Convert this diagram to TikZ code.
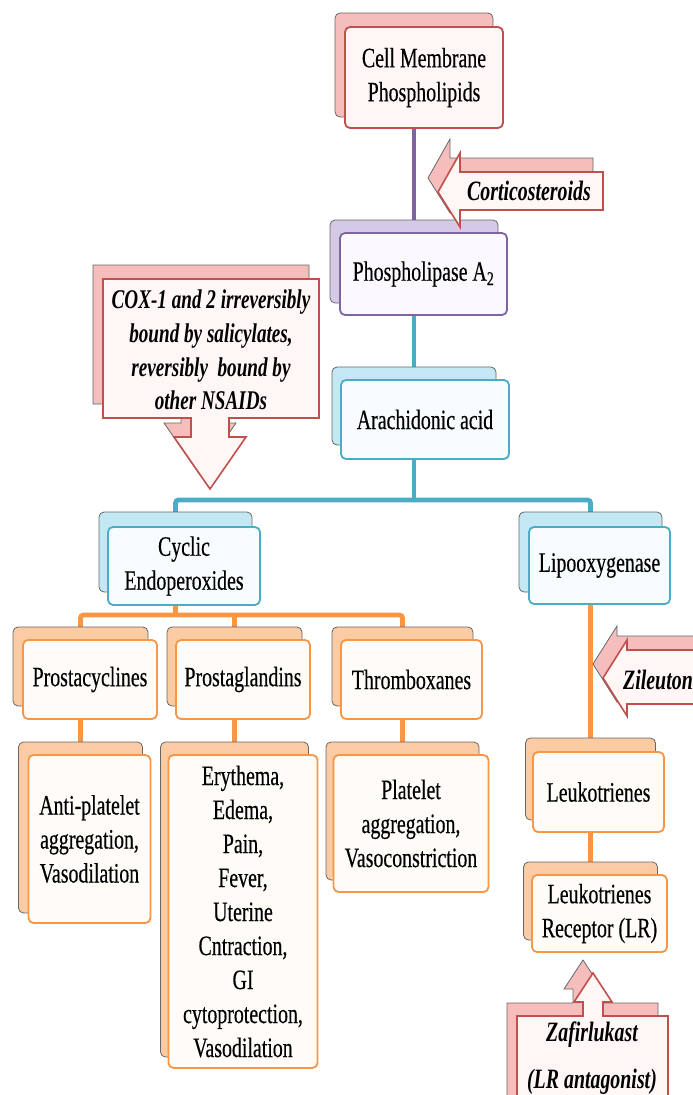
\documentclass[tikz,border=0pt]{standalone}
\usepackage{fontspec}
\setmainfont{Liberation Serif}[FakeStretch=0.71, UprightFeatures={FakeBold=0.35}]
\usetikzlibrary{calc}
\definecolor{cred}{HTML}{C0504D}
\definecolor{cpur}{HTML}{8064A2}
\definecolor{ccya}{HTML}{4BACC6}
\definecolor{cora}{HTML}{F79646}
\definecolor{bred}{HTML}{F5BEBD}
\definecolor{bpur}{HTML}{D5CAE6}
\definecolor{bcya}{HTML}{C3E8F4}
\definecolor{bora}{HTML}{FBCBA4}
\definecolor{fred}{HTML}{FFF6F6}
\definecolor{fpur}{HTML}{FBF9FD}
\definecolor{fcya}{HTML}{F7FCFE}
\definecolor{fora}{HTML}{FFFBF7}
\newcommand\nf{\fontsize{28}{34}\selectfont}
\newcommand\cf{\fontsize{27}{33.7}\selectfont}
\newcommand\zf{\fontsize{28}{47}\selectfont}
\pgfdeclarelayer{background}
\pgfsetlayers{background,main}
\tikzset{
  backbox/.style={draw=black!60, line width=0.8pt, rounded corners=5pt, fill=#1, inner sep=0pt, outer sep=0pt},
  frontbox/.style={draw=#1, line width=1.8pt, rounded corners=5pt, inner sep=0pt, align=center, font=\nf},
  conn/.style={draw=#1, line width=4.8pt, rounded corners=3pt},
  arrback/.style={draw=black!60, line width=0.8pt, fill=bred, line join=miter},
  arrfront/.style={draw=cred, line width=1.6pt, fill=fred, line join=miter},
  lbl/.style={font=\nf\bfseries\itshape, inner sep=0pt, align=center}
}
\begin{document}
\begin{tikzpicture}[x=1pt,y=-1pt]
\useasboundingbox (0,0) rectangle (693,1095);
\clip (0,0) rectangle (693,1095);

% ---- boxes ----
\node[backbox=bred, minimum width=158pt, minimum height=104pt] (cellB) at (414,65) {};
\node[frontbox=cred, fill=fred, minimum width=158pt, minimum height=101pt] (cell) at (424,77.5) {Cell Membrane\\Phospholipids};

\node[backbox=bpur, minimum width=168pt, minimum height=83pt] (phB) at (414,261.5) {};
\node[frontbox=cpur, fill=fpur, minimum width=167pt, minimum height=82pt] (ph) at (423.5,274) {Phospholipase A\textsubscript{2}};

\node[backbox=bcya, minimum width=164pt, minimum height=78pt] (araB) at (414,406) {};
\node[frontbox=ccya, fill=fcya, minimum width=168pt, minimum height=79pt] (ara) at (425,419.5) {Arachidonic acid};

\node[backbox=bcya, minimum width=153pt, minimum height=80pt] (cycB) at (175.5,552) {};
\node[frontbox=ccya, fill=fcya, minimum width=152pt, minimum height=78pt] (cyc) at (184,566) {Cyclic\\Endoperoxides};

\node[backbox=bcya, minimum width=143pt, minimum height=80pt] (lipB) at (590.5,552) {};
\node[frontbox=ccya, fill=fcya, minimum width=141pt, minimum height=77pt] (lip) at (599.5,565.5) {Lipooxygenase};

\node[backbox=bora, minimum width=135pt, minimum height=79pt] (pcyB) at (80.5,666.5) {};
\node[frontbox=cora, fill=fora, minimum width=134pt, minimum height=79pt] (pcy) at (90,679.5) {Prostacyclines};

\node[backbox=bora, minimum width=135pt, minimum height=79pt] (pglB) at (234.5,666.5) {};
\node[frontbox=cora, fill=fora, minimum width=134pt, minimum height=79pt] (pgl) at (243,679.5) {Prostaglandins};

\node[backbox=bora, minimum width=141pt, minimum height=79pt] (txB) at (402.5,666.5) {};
\node[frontbox=cora, fill=fora, minimum width=141pt, minimum height=79pt] (tx) at (411.5,679.5) {Thromboxanes};

\node[backbox=bora, minimum width=124pt, minimum height=171pt] (apB) at (80.5,827.5) {};
\node[frontbox=cora, fill=fora, minimum width=122pt, minimum height=168pt] (ap) at (89.5,839) {Anti-platelet\\aggregation,\\Vasodilation};

\node[backbox=bora, minimum width=148pt, minimum height=315pt] (efB) at (234.5,899.5) {};
\node[frontbox=cora, fill=fora, minimum width=149pt, minimum height=313pt] (ef) at (243,911.5) {Erythema,\\Edema,\\Pain,\\Fever,\\Uterine\\Cntraction,\\GI\\cytoprotection,\\Vasodilation};

\node[backbox=bora, minimum width=153pt, minimum height=138pt] (plB) at (402.5,811) {};
\node[frontbox=cora, fill=fora, minimum width=155pt, minimum height=137pt] (pl) at (411,823.5) {Platelet\\aggregation,\\Vasoconstriction};

\node[backbox=bora, minimum width=130pt, minimum height=82pt] (ltB) at (590.5,779) {};
\node[frontbox=cora, fill=fora, minimum width=131pt, minimum height=80pt] (lt) at (598.5,792) {Leukotrienes};

\node[backbox=bora, minimum width=134pt, minimum height=78pt] (lrB) at (590.5,901) {};
\node[frontbox=cora, fill=fora, minimum width=135pt, minimum height=77pt] (lr) at (599.5,913.5) {Leukotrienes\\Receptor (LR)};

% ---- connectors ----
\begin{pgfonlayer}{background}
\coordinate (bus1) at (414,500);
\coordinate (bus2) at (175.5,615);
\draw[conn=cpur, line width=4pt] (cellB.center) -- (phB.center);
\draw[conn=ccya] (phB.center) -- (araB.center);
\draw[conn=ccya] (araB.center) -- (bus1);
\draw[conn=ccya] (cycB.center) |- (bus1) -| (lipB.center);
\draw[conn=cora] (cycB.center) -- (bus2);
\draw[conn=cora] (pcyB.center) |- (bus2) -| (txB.center);
\draw[conn=cora] (pglB.center) -- (pglB.center |- bus2);
\draw[conn=cora] (pcyB.center) -- (apB.center);
\draw[conn=cora] (pglB.center) -- (efB.center);
\draw[conn=cora] (txB.center) -- (plB.center);
\draw[conn=cora] (lipB.center) -- (ltB.center);
\draw[conn=cora] (ltB.center) -- (lrB.center);
\end{pgfonlayer}

% ---- block arrows ----
% Corticosteroids (left)
\draw[arrback, shift={(-10,-14)}] (438,192) -- (460,153) -- (460,172) -- (603,172) -- (603,210) -- (460,210) -- (460,227) -- cycle;
\draw[arrfront] (438,192) -- (460,153) -- (460,172) -- (603,172) -- (603,210) -- (460,210) -- (460,227) -- cycle;
\node[lbl] (cort) at (529,191) {Corticosteroids};

% Zileuton (left)
\draw[arrback, shift={(-10,-14)}] (603,678) -- (627,640) -- (627,650) -- (720,650) -- (720,704) -- (627,704) -- (627,716) -- cycle;
\draw[arrfront] (603,678) -- (627,640) -- (627,650) -- (720,650) -- (720,704) -- (627,704) -- (627,716) -- cycle;
\node[lbl] (zil) at (658,680) {Zileuton};

% COX (down)
\draw[arrback, shift={(-10,-14)}] (103,279) -- (319,279) -- (319,418) -- (229,418) -- (229,437) -- (246,437) -- (210,489) -- (174,437) -- (191,437) -- (191,418) -- (103,418) -- cycle;
\draw[arrfront] (103,279) -- (319,279) -- (319,418) -- (229,418) -- (229,437) -- (246,437) -- (210,489) -- (174,437) -- (191,437) -- (191,418) -- (103,418) -- cycle;
\node[lbl, font=\cf\bfseries\itshape] (cox) at (211,350) {COX-1 and 2 irreversibly\\bound by salicylates,\\reversibly \ bound by\\other NSAIDs};

% Zafirlukast (up)
\draw[arrback, shift={(-10,-13)}] (593,973) -- (612,1002) -- (603,1002) -- (603,1016) -- (668,1016) -- (668,1120) -- (517,1120) -- (517,1016) -- (583,1016) -- (583,1002) -- (574,1002) -- cycle;
\draw[arrfront] (593,973) -- (612,1002) -- (603,1002) -- (603,1016) -- (668,1016) -- (668,1120) -- (517,1120) -- (517,1016) -- (583,1016) -- (583,1002) -- (574,1002) -- cycle;
\node[lbl, font=\zf\bfseries\itshape] (zaf) at (592,1058) {Zafirlukast\\(LR antagonist)};
\end{tikzpicture}
\end{document}
